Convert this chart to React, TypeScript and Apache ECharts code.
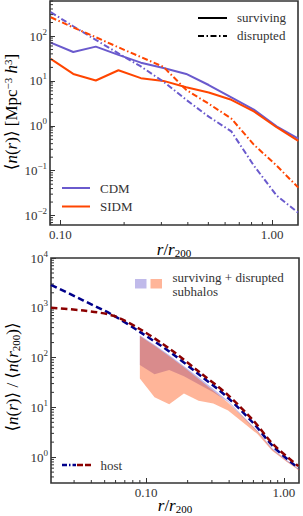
import React, { useEffect, useRef } from "react";
import * as echarts from "echarts";

// ---------- data ----------
const X_BINS = [0.09, 0.115, 0.147, 0.188, 0.24, 0.307, 0.393, 0.502, 0.642, 0.82, 1.05, 1.33];
const CDM_SURV = [71, 44, 58, 38, 25.5, 19.4, 14.3, 8.1, 4.3, 2.3, 0.97, 0.52];
const SIDM_SURV = [31, 14.3, 10.2, 17.3, 11.5, 10, 7.2, 5.5, 3.8, 2.1, 0.93, 0.46];
const CDM_DISR = [340, 165, 82, 41, 21, 9.6, 3.8, 1.6, 0.75, 0.13, 0.028, 0.0115];
const SIDM_DISR = [262, 155, 94, 56, 34, 20.5, 6.3, 3.1, 1.45, 0.38, 0.13, 0.042];

const HOST_X = [0.0204, 0.0351, 0.058, 0.0905, 0.149, 0.246, 0.385, 0.6, 0.836, 1.27];
const HOST_CDM = [2900, 1400, 700, 325, 129, 44, 16.3, 4.8, 1.63, 0.6];
const HOST_SIDM = [1000, 880, 690, 370, 148, 50, 18.5, 5.4, 1.8, 0.66];

const BAND_CDM_UP = [280, 180, 113, 68, 40, 23.5, 13.5, 6.8, 3.4, 1.5, 0.88, 0.55];
const BAND_CDM_LO = [71, 46, 56, 42, 29, 20, 12.8, 6.3, 3.2, 1.4, 0.82, 0.52];
const BAND_SIDM_UP = [270, 172, 106, 64, 37, 21.5, 12.3, 6.5, 3.3, 1.45, 0.84, 0.53];
const BAND_SIDM_LO = [38, 16, 11.5, 19, 13.5, 12, 8.6, 5.0, 2.9, 1.35, 0.8, 0.5];

const TOP_X_TICKS = [0.1, 1];
const BOT_X_TICKS = [0.1, 1];

const FONT = '"Liberation Serif", "DejaVu Serif", serif';
const PURPLE = "#6a5acd";
const RED = "#ff4500";
const NAVY = "#00008b";
const DARKRED = "#8b0000";
const INK = "#333";

const TOP_RANGE = { xmin: 0.0893, xmax: 1.326, ymin: Math.pow(10, -2.21), ymax: Math.pow(10, 2.78) };
const BOT_RANGE = { xmin: 0.0204, xmax: 1.285, ymin: Math.pow(10, -0.52), ymax: 10000 };

function minors(lo: number, hi: number): number[] {
  const out: number[] = [];
  for (let d = -4; d <= 5; d++) {
    for (let k = 2; k <= 9; k++) {
      const v = k * Math.pow(10, d);
      if (v > lo * 1.0001 && v < hi * 0.9999) out.push(v);
    }
  }
  return out;
}

const supRich = {
  b: { fontFamily: FONT, fontSize: 13, color: INK, lineHeight: 18, verticalAlign: "middle" },
  s: { fontFamily: FONT, fontSize: 9, color: INK, lineHeight: 9, verticalAlign: "top" },
};

function expLabel(v: number) {
  const e = Math.round(Math.log10(v));
  const es = e < 0 ? "\u2212" + Math.abs(e) : String(e);
  return `{b|10}{s|${es}}`;
}

function pair(xs: number[], ys: number[]) {
  return xs.map((x, i) => [x, ys[i]]);
}

function bandSeries(up: number[], lo: number[], fill: string, z: number) {
  return {
    type: "custom",
    xAxisIndex: 1,
    yAxisIndex: 1,
    clip: true,
    z,
    silent: true,
    data: [[X_BINS[0], lo[0]]],
    renderItem: (params: any, api: any) => {
      const pts: number[][] = [];
      for (let i = 0; i < X_BINS.length; i++) pts.push(api.coord([X_BINS[i], up[i]]));
      for (let i = X_BINS.length - 1; i >= 0; i--) pts.push(api.coord([X_BINS[i], lo[i]]));
      return { type: "polygon", shape: { points: pts }, style: { fill, stroke: "none" } };
    },
  };
}

function minorTickSeries(gi: number, values: number[], dir: "x" | "y", fixed: number) {
  return {
    type: "custom",
    xAxisIndex: gi,
    yAxisIndex: gi,
    silent: true,
    z: 5,
    data: values.map((v) => (dir === "x" ? [v, fixed] : [fixed, v])),
    renderItem: (params: any, api: any) => {
      const p = api.coord([api.value(0), api.value(1)]);
      const shape =
        dir === "x"
          ? { x1: p[0], y1: p[1], x2: p[0], y2: p[1] - 3 }
          : { x1: p[0], y1: p[1], x2: p[0] + 3, y2: p[1] };
      return { type: "line", shape, style: { stroke: INK, lineWidth: 1 } };
    },
  };
}

function xAxisCfg(gi: number, r: any, ticks: number[]) {
  return {
    type: "log",
    logBase: 10,
    gridIndex: gi,
    min: r.xmin,
    max: r.xmax,
    axisLine: { show: false },
    axisTick: { inside: true, length: 5, lineStyle: { color: INK, width: 1 } },
    axisLabel: {
      fontFamily: FONT,
      fontSize: 13,
      color: INK,
      margin: 3,
      showMinLabel: false,
      showMaxLabel: false,
      formatter: (v: number) => {
        const hit = ticks.find((t) => Math.abs(Math.log10(v) - Math.log10(t)) < 1e-3);
        return hit !== undefined ? hit.toFixed(2) : "";
      },
    },
    splitLine: { show: false },
  };
}

function yAxisCfg(gi: number, r: any, showMax: boolean) {
  return {
    type: "log",
    logBase: 10,
    gridIndex: gi,
    min: r.ymin,
    max: r.ymax,
    axisLine: { show: false },
    axisTick: { inside: true, length: 5, lineStyle: { color: INK, width: 1 } },
    axisLabel: {
      margin: 3,
      showMinLabel: false,
      showMaxLabel: showMax,
      formatter: (v: number) => expLabel(v),
      rich: supRich,
    },
    splitLine: { show: false },
  };
}

const lineBase = { type: "line", symbol: "none", animation: false };

export default function App() {
  const ref = useRef<HTMLDivElement>(null);
  useEffect(() => {
    if (!ref.current) return;
    const chart = echarts.init(ref.current, undefined, { renderer: "svg" });
    const titleRich = {
      t: { fontFamily: FONT, fontSize: 17, color: INK, lineHeight: 18, verticalAlign: "middle" },
      i: { fontFamily: FONT, fontStyle: "italic", fontSize: 17, color: INK, lineHeight: 18, verticalAlign: "middle" },
      sup: { fontFamily: FONT, fontSize: 11, color: INK, lineHeight: 11, verticalAlign: "top" },
      sub: { fontFamily: FONT, fontSize: 11, color: INK, lineHeight: 11, verticalAlign: "bottom" },
    };
    const legText = (x: number, y: number, text: string) => ({
      type: "text",
      x,
      y,
      style: { text, fontFamily: FONT, fontSize: 13, fill: INK, verticalAlign: "middle", align: "left" },
    });
    const legLine = (x1: number, x2: number, y: number, stroke: string, dash?: number[]) => ({
      type: "line",
      shape: { x1, y1: y, x2, y2: y },
      style: { stroke, lineWidth: 2, lineDash: dash },
    });
    const option: any = {
      animation: false,
      grid: [
        { left: 50, top: 1, right: 5, height: 224, show: true, borderColor: INK, borderWidth: 1.6, backgroundColor: "transparent" },
        { left: 51, top: 258, right: 4, height: 225, show: true, borderColor: INK, borderWidth: 1.6, backgroundColor: "transparent" },
      ],
      xAxis: [xAxisCfg(0, TOP_RANGE, TOP_X_TICKS), xAxisCfg(1, BOT_RANGE, BOT_X_TICKS)],
      yAxis: [yAxisCfg(0, TOP_RANGE, false), yAxisCfg(1, BOT_RANGE, true)],
      series: [
        { ...lineBase, name: "CDM surviving", xAxisIndex: 0, yAxisIndex: 0, data: pair(X_BINS, CDM_SURV), lineStyle: { color: PURPLE, width: 2 }, z: 3 },
        { ...lineBase, name: "SIDM surviving", xAxisIndex: 0, yAxisIndex: 0, data: pair(X_BINS, SIDM_SURV), lineStyle: { color: RED, width: 2 }, z: 3 },
        { ...lineBase, name: "CDM disrupted", xAxisIndex: 0, yAxisIndex: 0, data: pair(X_BINS, CDM_DISR), lineStyle: { color: PURPLE, width: 2, type: [6, 2.5, 1.5, 2.5] }, z: 3 },
        { ...lineBase, name: "SIDM disrupted", xAxisIndex: 0, yAxisIndex: 0, data: pair(X_BINS, SIDM_DISR), lineStyle: { color: RED, width: 2, type: [6, 2.5, 1.5, 2.5] }, z: 3 },
        bandSeries(BAND_CDM_UP, BAND_CDM_LO, "rgba(106,90,205,0.42)", 1),
        bandSeries(BAND_SIDM_UP, BAND_SIDM_LO, "rgba(255,69,0,0.4)", 2),
        { ...lineBase, name: "host CDM", xAxisIndex: 1, yAxisIndex: 1, smooth: 0.3, data: pair(HOST_X, HOST_CDM), lineStyle: { color: NAVY, width: 2.5, type: [6.5, 3.5] }, z: 3 },
        { ...lineBase, name: "host SIDM", xAxisIndex: 1, yAxisIndex: 1, smooth: 0.3, data: pair(HOST_X, HOST_SIDM), lineStyle: { color: DARKRED, width: 2.5, type: [6.5, 3.5] }, z: 4 },
        minorTickSeries(0, minors(TOP_RANGE.xmin, TOP_RANGE.xmax), "x", TOP_RANGE.ymin),
        minorTickSeries(0, minors(TOP_RANGE.ymin, TOP_RANGE.ymax), "y", TOP_RANGE.xmin),
        minorTickSeries(1, minors(BOT_RANGE.xmin, BOT_RANGE.xmax), "x", BOT_RANGE.ymin),
        minorTickSeries(1, minors(BOT_RANGE.ymin, BOT_RANGE.ymax), "y", BOT_RANGE.xmin),
      ],
      graphic: [
        // top legend
        legLine(198, 227, 18, "#000"),
        legText(237, 17, "surviving"),
        legLine(198, 227, 36, "#000", [6, 2.5, 1.5, 2.5]),
        legText(237, 35, "disrupted"),
        legLine(62, 90, 188, PURPLE),
        legText(100, 188, "CDM"),
        legLine(62, 90, 206.5, RED),
        legText(100, 206.5, "SIDM"),
        // bottom legend
        { type: "rect", shape: { x: 135, y: 279, width: 11.5, height: 9.5 }, style: { fill: "rgba(106,90,205,0.42)" } },
        { type: "rect", shape: { x: 150.5, y: 279, width: 11.5, height: 9.5 }, style: { fill: "rgba(255,69,0,0.4)" } },
        legText(172.5, 277, "surviving + disrupted"),
        legText(172.5, 291, "subhalos"),
        { type: "line", shape: { x1: 62, y1: 465, x2: 76, y2: 465 }, style: { stroke: NAVY, lineWidth: 2.5, lineDash: [5, 2, 1.5, 2] } },
        { type: "line", shape: { x1: 77, y1: 465, x2: 91, y2: 465 }, style: { stroke: DARKRED, lineWidth: 2.5, lineDash: [6, 2] } },
        legText(100.5, 465, "host"),
        // axis titles
        {
          type: "text",
          x: 174,
          y: 249,
          style: { text: "{i|r}{t|/}{i|r}{sub|200}", rich: titleRich, align: "center", verticalAlign: "middle" },
        },
        {
          type: "text",
          x: 175,
          y: 505,
          style: { text: "{i|r}{t|/}{i|r}{sub|200}", rich: titleRich, align: "center", verticalAlign: "middle" },
        },
        {
          type: "text",
          x: 11,
          y: 112,
          rotation: Math.PI / 2,
          style: {
            text: "{t|\u27e8}{i|n}{t|(}{i|r}{t|)\u27e9 [Mpc}{sup|\u22123}{t| }{i|h}{sup|3}{t|]}",
            rich: titleRich,
            align: "center",
            verticalAlign: "middle",
          },
        },
        {
          type: "text",
          x: 12,
          y: 377,
          rotation: Math.PI / 2,
          style: {
            text: "{t|\u27e8}{i|n}{t|(}{i|r}{t|)\u27e9 / \u27e8}{i|n}{t|(}{i|r}{sub|200}{t|)\u27e9}",
            rich: titleRich,
            align: "center",
            verticalAlign: "middle",
          },
        },
      ],
    };
    chart.setOption(option);
    return () => chart.dispose();
  }, []);
  return (
    <div
      ref={ref}
      style={{ position: "fixed", left: 0, top: 0, width: 303, height: 516, background: "#fff" }}
    />
  );
}
